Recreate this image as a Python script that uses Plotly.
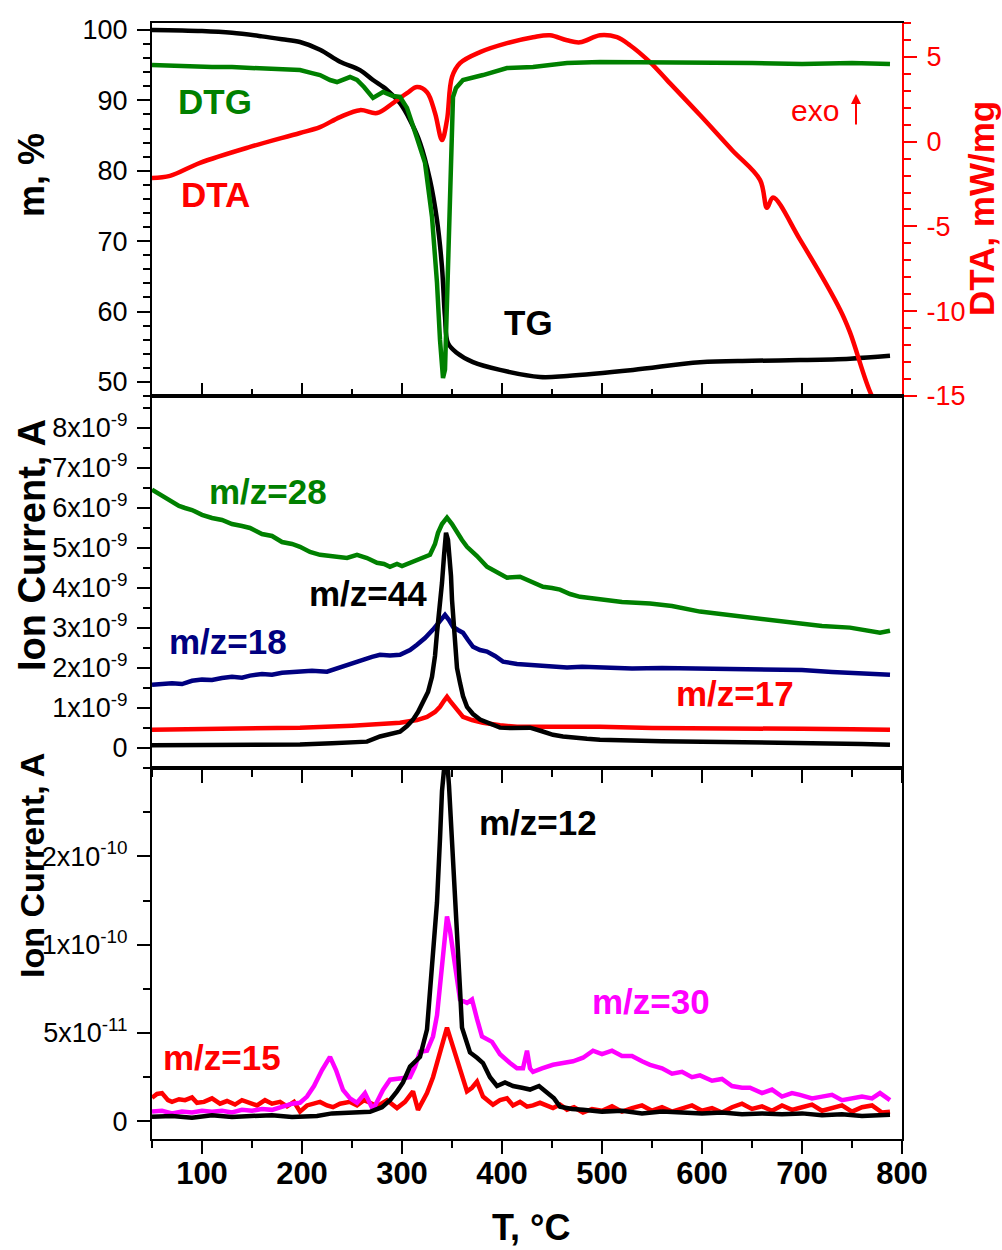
import plotly.graph_objects as go

# ---------------- thermal analysis (top panel) ----------------
tg_t = [50, 100, 130, 160, 180, 198, 218, 238, 258, 271, 285, 298, 308, 318, 328, 335, 340, 343,
        346, 355, 371, 398, 438, 465, 531, 598, 650, 698, 748, 788]
tg_m = [100, 99.85, 99.6, 99.1, 98.7, 98.3, 97.2, 95.5, 94.3, 92.9, 91.5, 89.6, 87.2, 84.0, 78.7,
        73.0, 66.3, 59.2, 55.5, 54.1, 52.8, 51.7, 50.7, 50.85, 51.7, 52.8, 53.0, 53.1, 53.3, 53.7]

dta_t = [50, 68, 98, 148, 198, 218, 238, 258, 275, 291, 305, 315, 325, 333, 340, 345, 350, 358,
         378, 405, 431, 448, 465, 478, 498, 515, 528, 548, 565, 598, 630, 658, 665, 671, 698, 738,
         748, 770, 778]
dta_v = [-2.14, -2.02, -1.25, -0.31, 0.51, 0.86, 1.45, 1.86, 1.69, 2.28, 2.86, 3.22, 2.92, 1.69,
         0.10, 1.28, 3.81, 4.63, 5.28, 5.81, 6.16, 6.28, 5.98, 5.86, 6.28, 6.16, 5.69, 4.69, 3.63,
         1.57, -0.49, -2.25, -3.9, -3.3, -5.78, -9.9, -11.25, -15.0, -15.6]

dtg_t = [50, 70, 90, 110, 130, 150, 170, 190, 198, 210, 218, 228, 235, 248, 255, 262, 271, 281,
         291, 298, 305, 315, 323, 330, 335, 338, 341, 343, 345, 348, 351, 354, 361, 381, 405, 431,
         465, 498, 550, 598, 650, 700, 750, 788]
dtg_v = [-0.02, -0.05, -0.05, -0.08, -0.08, -0.11, -0.11, -0.14, -0.17, -0.26, -0.32, -0.47, -0.53,
         -0.38, -0.47, -0.68, -1.01, -0.83, -0.95, -0.98, -1.31, -2.22, -2.97, -4.60, -6.59, -8.31,
         -9.46, -9.21, -7.10, -3.09, -0.98, -0.71, -0.47, -0.32, -0.11, -0.08, 0.04, 0.07, 0.07,
         0.04, 0.04, 0.01, 0.04, 0.01]

# ---------------- ion currents, x1e-9 A (middle panel) ----------------
mz28_t = [50, 60, 70, 77, 83, 90, 100, 110, 120, 130, 140, 148, 160, 170, 180, 190, 198, 208, 218,
          228, 238, 245, 255, 265, 275, 282, 288, 295, 300, 308, 318, 328, 333, 336, 340, 345, 350,
          355, 360, 365, 375, 385, 395, 405, 418, 430, 441, 450, 458, 468, 478, 488, 498, 520, 548,
          570, 598, 620, 648, 670, 698, 720, 748, 765, 778, 788]
mz28_i = [6.46, 6.3, 6.13, 6.05, 6.0, 5.95, 5.83, 5.75, 5.7, 5.6, 5.55, 5.5, 5.35, 5.3, 5.15, 5.1,
          5.03, 4.9, 4.83, 4.8, 4.78, 4.75, 4.83, 4.75, 4.63, 4.6, 4.53, 4.6, 4.55, 4.63, 4.7, 4.83,
          5.1, 5.38, 5.6, 5.76, 5.6, 5.38, 5.2, 5.03, 4.8, 4.53, 4.4, 4.26, 4.28, 4.15, 4.03, 4.0,
          3.96, 3.85, 3.78, 3.75, 3.71, 3.65, 3.61, 3.55, 3.41, 3.35, 3.26, 3.2, 3.11, 3.05, 3.01,
          2.95, 2.88, 2.93]

mz44_t = [50, 100, 150, 198, 230, 250, 265, 278, 290, 298, 305, 311, 316, 321, 326, 330, 333, 335,
          338, 340, 342, 344, 346, 347, 349, 350, 352, 353, 355, 358, 361, 365, 371, 378, 388, 398,
          410, 428, 440, 451, 461, 471, 485, 498, 530, 560, 600, 640, 680, 720, 760, 788]
mz44_i = [0.07, 0.07, 0.08, 0.09, 0.12, 0.14, 0.16, 0.29, 0.36, 0.41, 0.55, 0.71, 0.9, 1.13, 1.4,
          1.78, 2.3, 2.88, 3.5, 4.13, 4.8, 5.38, 5.2, 4.96, 4.3, 3.71, 3.0, 2.46, 2.0, 1.63, 1.3,
          1.03, 0.85, 0.71, 0.6, 0.51, 0.5, 0.51, 0.42, 0.33, 0.29, 0.26, 0.23, 0.21, 0.18, 0.17,
          0.16, 0.15, 0.14, 0.12, 0.1, 0.08]

mz18_t = [50, 60, 70, 80, 90, 100, 110, 120, 130, 140, 148, 160, 170, 180, 190, 198, 210, 225, 233,
          241, 250, 260, 270, 278, 288, 298, 308, 315, 323, 331, 337, 343, 347, 351, 356, 361, 366,
          371, 378, 385, 393, 401, 415, 431, 450, 465, 480, 498, 530, 560, 600, 630, 660, 700, 730,
          760, 788]
mz18_i = [1.58, 1.6, 1.62, 1.6, 1.68, 1.71, 1.7, 1.75, 1.78, 1.76, 1.81, 1.85, 1.83, 1.88, 1.9,
          1.91, 1.93, 1.91, 1.98, 2.03, 2.1, 2.2, 2.28, 2.33, 2.31, 2.33, 2.45, 2.58, 2.75, 2.96,
          3.15, 3.33, 3.2, 3.03, 2.95, 2.88, 2.7, 2.53, 2.45, 2.41, 2.3, 2.16, 2.1, 2.08, 2.04, 2.01,
          2.03, 2.01, 1.99, 2.0, 1.98, 1.97, 1.96, 1.95, 1.9, 1.87, 1.83]

mz17_t = [50, 100, 150, 198, 250, 298, 315, 325, 333, 338, 342, 345, 348, 351, 356, 361, 370, 381,
          398, 415, 450, 498, 550, 600, 650, 700, 750, 788]
mz17_i = [0.46, 0.47, 0.49, 0.51, 0.56, 0.63, 0.7, 0.78, 0.9, 1.03, 1.18, 1.28, 1.18, 1.08, 0.92,
          0.78, 0.7, 0.63, 0.57, 0.53, 0.53, 0.53, 0.5, 0.5, 0.49, 0.48, 0.47, 0.46]

# ---------------- ion currents, x1e-11 A (bottom panel) ----------------
mz12_t = [50, 70, 90, 110, 130, 150, 170, 190, 198, 215, 230, 248, 268, 280, 288, 295, 301, 308,
          318, 325, 328, 332, 335, 338, 340, 343, 345, 347, 350, 353, 355, 358, 360, 364, 368, 375,
          381, 388, 395, 403, 411, 420, 428, 437, 445, 452, 458, 470, 481, 500, 520, 540, 560, 580,
          600, 620, 640, 660, 680, 700, 720, 740, 760, 788]
mz12_i = [0.26, 0.3, 0.2, 0.35, 0.25, 0.3, 0.35, 0.25, 0.26, 0.3, 0.45, 0.49, 0.54, 0.8, 1.2, 1.7,
          2.2, 3.1, 3.65, 5.2, 7.4, 10.0, 12.4, 16.0, 18.7, 20.5, 20.5, 19.0, 16.1, 13.0, 10.4, 7.5,
          5.3, 4.5, 3.9, 3.6, 3.3, 2.5, 2.0, 2.2, 2.0, 1.9, 1.8, 2.0, 1.6, 1.3, 0.83, 0.7, 0.66,
          0.55, 0.6, 0.45, 0.55, 0.5, 0.45, 0.5, 0.4, 0.45, 0.4, 0.45, 0.35, 0.4, 0.3, 0.37]

mz30_t = [50, 60, 70, 80, 90, 100, 110, 120, 130, 140, 150, 160, 170, 180, 190, 198, 205, 212, 220,
          228, 234, 241, 248, 255, 263, 271, 277, 281, 288, 298, 308, 313, 318, 325, 331, 335, 338,
          342, 345, 348, 351, 355, 358, 365, 370, 375, 380, 390, 398, 408, 415, 421, 425, 428, 431,
          440, 451, 461, 471, 481, 491, 500, 510, 520, 530, 540, 548, 560, 570, 580, 590, 598, 610,
          620, 630, 640, 648, 660, 670, 680, 690, 698, 710, 720, 730, 740, 748, 760, 770, 778, 788]
mz30_i = [0.55, 0.6, 0.45, 0.55, 0.5, 0.6, 0.55, 0.6, 0.5, 0.65, 0.6, 0.7, 0.65, 0.8, 1.0, 1.05,
          1.4, 2.0, 2.9, 3.65, 2.9, 1.78, 1.3, 1.05, 1.6, 0.66, 1.3, 1.78, 2.36, 2.4, 2.5, 3.1, 3.94,
          4.0, 4.8, 6.0, 7.6, 10.0, 11.6, 10.8, 9.7, 8.0, 6.9, 6.7, 6.9, 5.8, 4.8, 4.5, 3.8, 3.3,
          3.0, 3.0, 4.0, 3.0, 2.8, 3.0, 3.2, 3.3, 3.4, 3.6, 4.0, 3.8, 4.0, 3.7, 3.7, 3.4, 3.2, 3.0,
          2.7, 2.8, 2.5, 2.6, 2.3, 2.4, 2.0, 1.9, 1.9, 1.6, 1.8, 1.4, 1.6, 1.5, 1.3, 1.4, 1.5, 1.2,
          1.3, 1.4, 1.3, 1.6, 1.2]

mz15_t = [50, 55, 60, 66, 70, 77, 83, 90, 95, 102, 110, 118, 125, 133, 140, 148, 155, 163, 170,
          178, 185, 192, 198, 205, 212, 218, 225, 231, 238, 248, 255, 262, 268, 275, 285, 295, 303,
          311, 316, 321, 325, 331, 338, 345, 350, 355, 360, 365, 370, 375, 381, 386, 391, 398, 405,
          411, 418, 425, 431, 438, 445, 451, 458, 465, 472, 481, 490, 500, 510, 520, 530, 540, 550,
          560, 570, 580, 590, 600, 610, 620, 630, 640, 650, 660, 670, 680, 690, 700, 710, 720, 730,
          740, 750, 760, 770, 780, 788]
mz15_i = [1.33, 1.55, 1.6, 1.2, 1.1, 1.25, 1.2, 1.35, 1.05, 1.1, 1.3, 1.0, 1.15, 0.95, 1.2, 1.05,
          0.9, 1.2, 1.0, 1.1, 0.85, 1.1, 0.55, 0.9, 1.0, 1.1, 0.9, 0.8, 1.0, 1.1, 0.9, 1.2, 1.05,
          0.85, 1.2, 0.75, 1.1, 1.7, 0.65, 1.2, 1.6, 2.5, 3.8, 5.3, 4.4, 3.5, 2.5, 1.7, 1.9, 2.25,
          1.4, 1.2, 0.94, 1.2, 1.3, 0.9, 1.1, 0.83, 0.9, 1.05, 0.85, 0.75, 0.95, 0.66, 0.8, 0.5,
          0.7, 0.6, 0.85, 0.55, 0.75, 0.9, 0.6, 0.8, 0.55, 0.7, 0.9, 0.6, 0.75, 0.5, 0.8, 1.0, 0.7,
          0.85, 0.6, 0.9, 0.65, 0.8, 0.95, 0.6, 0.75, 0.9, 0.55, 0.8, 0.9, 0.5, 0.55]

# ---------------- tick labels ----------------
t_ticks = [100, 200, 300, 400, 500, 600, 700, 800]
m_ticks = [50, 60, 70, 80, 90, 100]
dta_ticks = [-15, -10, -5, 0, 5]
dta_labels = ["-15", "-10", "-5", "0", "5"]
mid_ticks = [0, 1, 2, 3, 4, 5, 6, 7, 8]
mid_labels = ["0"] + [f"{k}x10<sup>-9</sup>" for k in range(1, 9)]
bot_ticks = [0, 5, 10, 15]
bot_labels = ["0", "5x10<sup>-11</sup>", "1x10<sup>-10</sup>", "2x10<sup>-10</sup>"]

GREEN = "#008000"
RED = "#ff0000"
NAVY = "#000080"
MAGENTA = "#ff00ff"
BLACK = "#000000"
SANS = "Liberation Sans, Arial, sans-serif"
LW = 4.5

fig = go.Figure()


def line(x, y, color, xa, ya, shape="linear"):
    fig.add_trace(go.Scatter(x=x, y=y, mode="lines", xaxis=xa, yaxis=ya,
                             line=dict(color=color, width=LW, shape=shape),
                             showlegend=False, hoverinfo="skip"))


# top panel: TG on m axis, DTA on right axis, DTG on a hidden axis
line(dta_t, dta_v, RED, "x", "y4", "spline")
line(dtg_t, dtg_v, GREEN, "x", "y5")
line(tg_t, tg_m, BLACK, "x", "y", "spline")

# middle panel
line(mz28_t, mz28_i, GREEN, "x2", "y2")
line(mz18_t, mz18_i, NAVY, "x2", "y2")
line(mz17_t, mz17_i, RED, "x2", "y2")
line(mz44_t, mz44_i, BLACK, "x2", "y2")

# bottom panel
line(mz15_t, mz15_i, RED, "x3", "y3")
line(mz30_t, mz30_i, MAGENTA, "x3", "y3")
line(mz12_t, mz12_i, BLACK, "x3", "y3")

D_BOT = [0.0, 0.3324]
D_MID = [0.3324, 0.6658]
D_TOP = [0.6658, 1.0]

tickfont = dict(family=SANS, size=27, color=BLACK)


def xaxis_common(anchor, ticks, showlabels):
    return dict(
        range=[50, 800], anchor=anchor, showgrid=False, zeroline=False,
        showline=True, linecolor=BLACK, linewidth=2, mirror=True,
        tickmode="array", tickvals=t_ticks, ticks=ticks, ticklen=13,
        tickwidth=2, tickcolor=BLACK, showticklabels=showlabels,
        minor=dict(tickmode="linear", tick0=50, dtick=100, ticks=ticks,
                   ticklen=7, tickwidth=2, tickcolor=BLACK),
    )


def yaxis_left(domain, anchor, rng, vals, labels, minor_dtick, mirror=True):
    return dict(
        domain=domain, anchor=anchor, range=rng, showgrid=False, zeroline=False,
        showline=True, linecolor=BLACK, linewidth=2, mirror=mirror,
        tickmode="array", tickvals=vals, ticktext=labels, ticks="outside",
        ticklen=13, tickwidth=2, tickcolor=BLACK, tickfont=tickfont,
        ticklabelstandoff=4,
        minor=dict(tickmode="linear", tick0=0, dtick=minor_dtick, ticks="outside",
                   ticklen=7, tickwidth=2, tickcolor=BLACK),
    )


xa_top = xaxis_common("y", "inside", False)
xa_mid = xaxis_common("y2", "outside", False)
xa_bot = xaxis_common("y3", "outside", True)
xa_bot["tickfont"] = dict(family=SANS, size=31, color=BLACK, weight="bold")
xa_bot["ticklabelstandoff"] = -7

fig.update_layout(
    width=1002, height=1250,
    margin=dict(l=152, r=100, t=23, b=111),
    paper_bgcolor="white", plot_bgcolor="white",
    showlegend=False,
    xaxis=xa_top, xaxis2=xa_mid, xaxis3=xa_bot,
    yaxis=yaxis_left(D_TOP, "x", [48, 101], m_ticks, [str(v) for v in m_ticks], 2, mirror=False),
    yaxis2=yaxis_left(D_MID, "x2", [-0.5, 8.8], mid_ticks, mid_labels, 0.5),
    yaxis3=yaxis_left(D_BOT, "x3", [-1, 20], bot_ticks, bot_labels, 2.5),
    yaxis4=dict(
        overlaying="y", side="right", anchor="x", range=[-15, 7], showgrid=False,
        zeroline=False, showline=True, linecolor=RED, linewidth=2,
        tickmode="array", tickvals=dta_ticks, ticktext=dta_labels, ticks="outside",
        ticklen=13, tickwidth=2, tickcolor=RED,
        tickfont=dict(family=SANS, size=27, color=RED), ticklabelstandoff=4,
        minor=dict(tickmode="linear", tick0=0, dtick=1, ticks="outside",
                   ticklen=7, tickwidth=2, tickcolor=RED),
    ),
    yaxis5=dict(overlaying="y", anchor="x", range=[-10, 1.25], visible=False),
)


def label(text, x, y, color, xref="x", yref="y", size=35, bold=True, angle=0):
    fig.add_annotation(text=text, x=x, y=y, xref=xref, yref=yref, showarrow=False,
                       xanchor="center", yanchor="middle", textangle=angle,
                       font=dict(family=SANS, size=size, color=color,
                                 weight="bold" if bold else "normal"))


# curve labels
label("DTG", 112.5, 89.8, GREEN)
label("DTA", 113, 76.6, RED)
label("TG", 426, 58.4, BLACK)
label("exo", 713, 88.6, RED, size=30, bold=False)
fig.add_annotation(x=754, y=90.9, xref="x", yref="y", text="", showarrow=True,
                   ax=0, ay=32, arrowhead=2, arrowsize=1, arrowwidth=2, arrowcolor=RED)
label("m/z=28", 166, 6.41, GREEN, "x2", "y2")
label("m/z=44", 266, 3.86, BLACK, "x2", "y2")
label("m/z=18", 126, 2.66, NAVY, "x2", "y2")
label("m/z=17", 633, 1.36, RED, "x2", "y2")
label("m/z=12", 436, 16.9, BLACK, "x3", "y3")
label("m/z=30", 549, 6.76, MAGENTA, "x3", "y3")
label("m/z=15", 120, 3.6, RED, "x3", "y3")

# axis titles
label("m, %", -0.16, 0.8638, BLACK, "paper", "paper", size=36, angle=-90)
label("Ion Current, A", -0.16, 0.5323, BLACK, "paper", "paper", size=38, angle=-90)
label("Ion Current, A", -0.16, 0.2446, BLACK, "paper", "paper", size=34, angle=-90)
label("DTA, mW/mg", 1.1053, 0.8342, RED, "paper", "paper", size=35, angle=-90)
label("T, °C", 0.5053, -0.0797, BLACK, "paper", "paper", size=36)

fig.write_html("out.html")
